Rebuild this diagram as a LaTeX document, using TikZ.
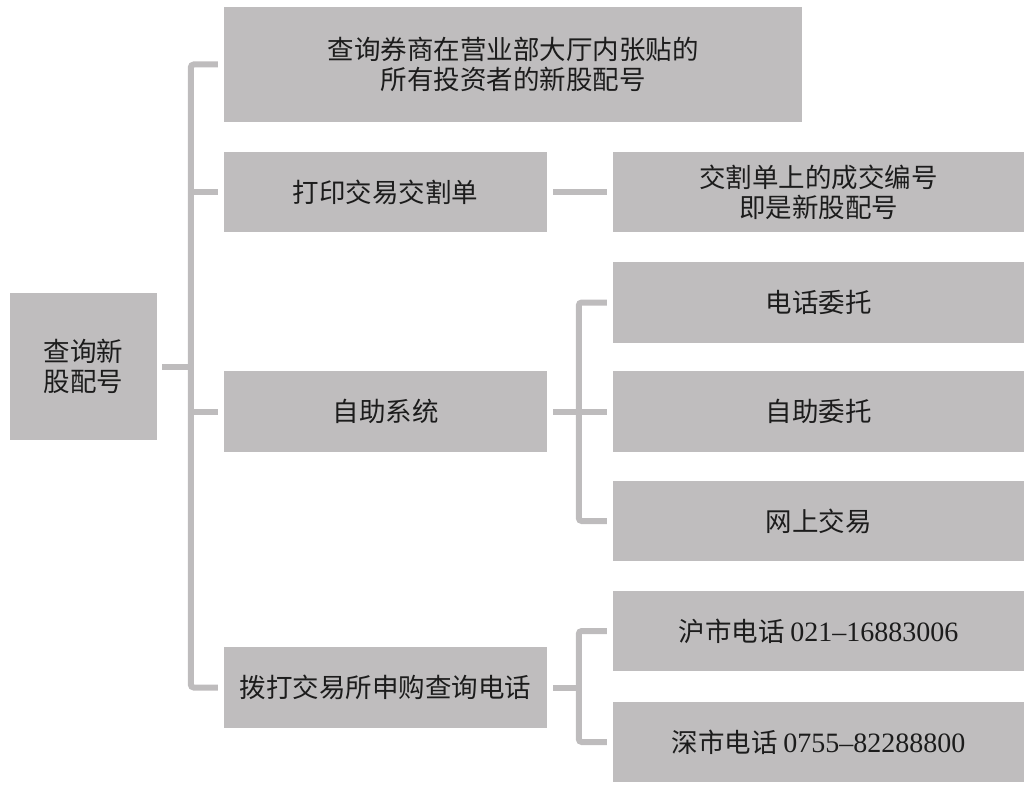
\documentclass[tikz,border=0pt]{standalone}
\usepackage{fontspec}
\setmainfont{Liberation Serif}
\newfontfamily\cjk{Noto Sans CJK SC}
\newfontfamily\digitfont{Liberation Serif}
\usetikzlibrary{calc}
\definecolor{boxfill}{HTML}{BFBDBE}
\definecolor{linecol}{HTML}{BEBCBD}
\definecolor{txt}{HTML}{1C1C1C}
\newcommand{\dg}[1]{{\fontsize{28}{30}\selectfont\digitfont #1}}
\begin{document}
\begin{tikzpicture}[x=1pt,y=-1pt,
  box/.style={rectangle, fill=boxfill, draw=none, inner sep=0pt, text=txt,
    align=center, font=\fontsize{26.5}{30}\selectfont\cjk},
  conn/.style={draw=linecol, line width=6pt, rounded corners=3pt}]
\useasboundingbox (0,0) rectangle (1030,789);
% boxes
\node[box, minimum width=147pt, minimum height=147pt] (root) at (83.5,366.5) {查询新\\股配号};
\node[box, minimum width=578pt, minimum height=115pt] (A) at (513,64.5) {查询券商在营业部大厅内张贴的\\所有投资者的新股配号};
\node[box, minimum width=323pt, minimum height=80pt] (B) at (385.5,192) {打印交易交割单};
\node[box, minimum width=323pt, minimum height=81pt] (C) at (385.5,411.5) {自助系统};
\node[box, minimum width=323pt, minimum height=81pt] (D) at (385.5,687.5) {拨打交易所申购查询电话};
\node[box, minimum width=411pt, minimum height=80pt] (B2) at (818.5,192) {交割单上的成交编号\\即是新股配号};
\node[box, minimum width=411pt, minimum height=81pt] (C1) at (818.5,302.5) {电话委托};
\node[box, minimum width=411pt, minimum height=81pt] (C2) at (818.5,411.5) {自助委托};
\node[box, minimum width=411pt, minimum height=80pt] (C3) at (818.5,521) {网上交易};
\node[box, minimum width=411pt, minimum height=80pt] (D1) at (818.5,631) {沪市电话 \dg{021–16883006}};
\node[box, minimum width=411pt, minimum height=80pt] (D2) at (818.5,742) {深市电话 \dg{0755–82288800}};
% main trunk
\draw[conn] ([xshift=-6pt]A.west) -| ([xshift=-33pt]D.west) -- ([xshift=-6pt]D.west);
\draw[conn] ([xshift=5pt]root.east) -- ([xshift=-33pt]C.west |- root.east);
\draw[conn] ([xshift=-33pt]B.west) -- ([xshift=-6pt]B.west);
\draw[conn] ([xshift=-33pt]C.west) -- ([xshift=-6pt]C.west);
% B branch
\draw[conn] ([xshift=6pt]B.east) -- ([xshift=-6pt]B2.west);
% C branch
\draw[conn] ([xshift=-6pt]C1.west) -| ([xshift=-34pt]C3.west) -- ([xshift=-6pt]C3.west);
\draw[conn] ([xshift=6pt]C.east) -- ([xshift=-6pt]C2.west);
% D branch
\draw[conn] ([xshift=-6pt]D1.west) -| ([xshift=-34pt]D2.west) -- ([xshift=-6pt]D2.west);
\draw[conn] ([xshift=6pt]D.east) -- ([xshift=-34pt]D1.west |- D.east);
\end{tikzpicture}
\end{document}
